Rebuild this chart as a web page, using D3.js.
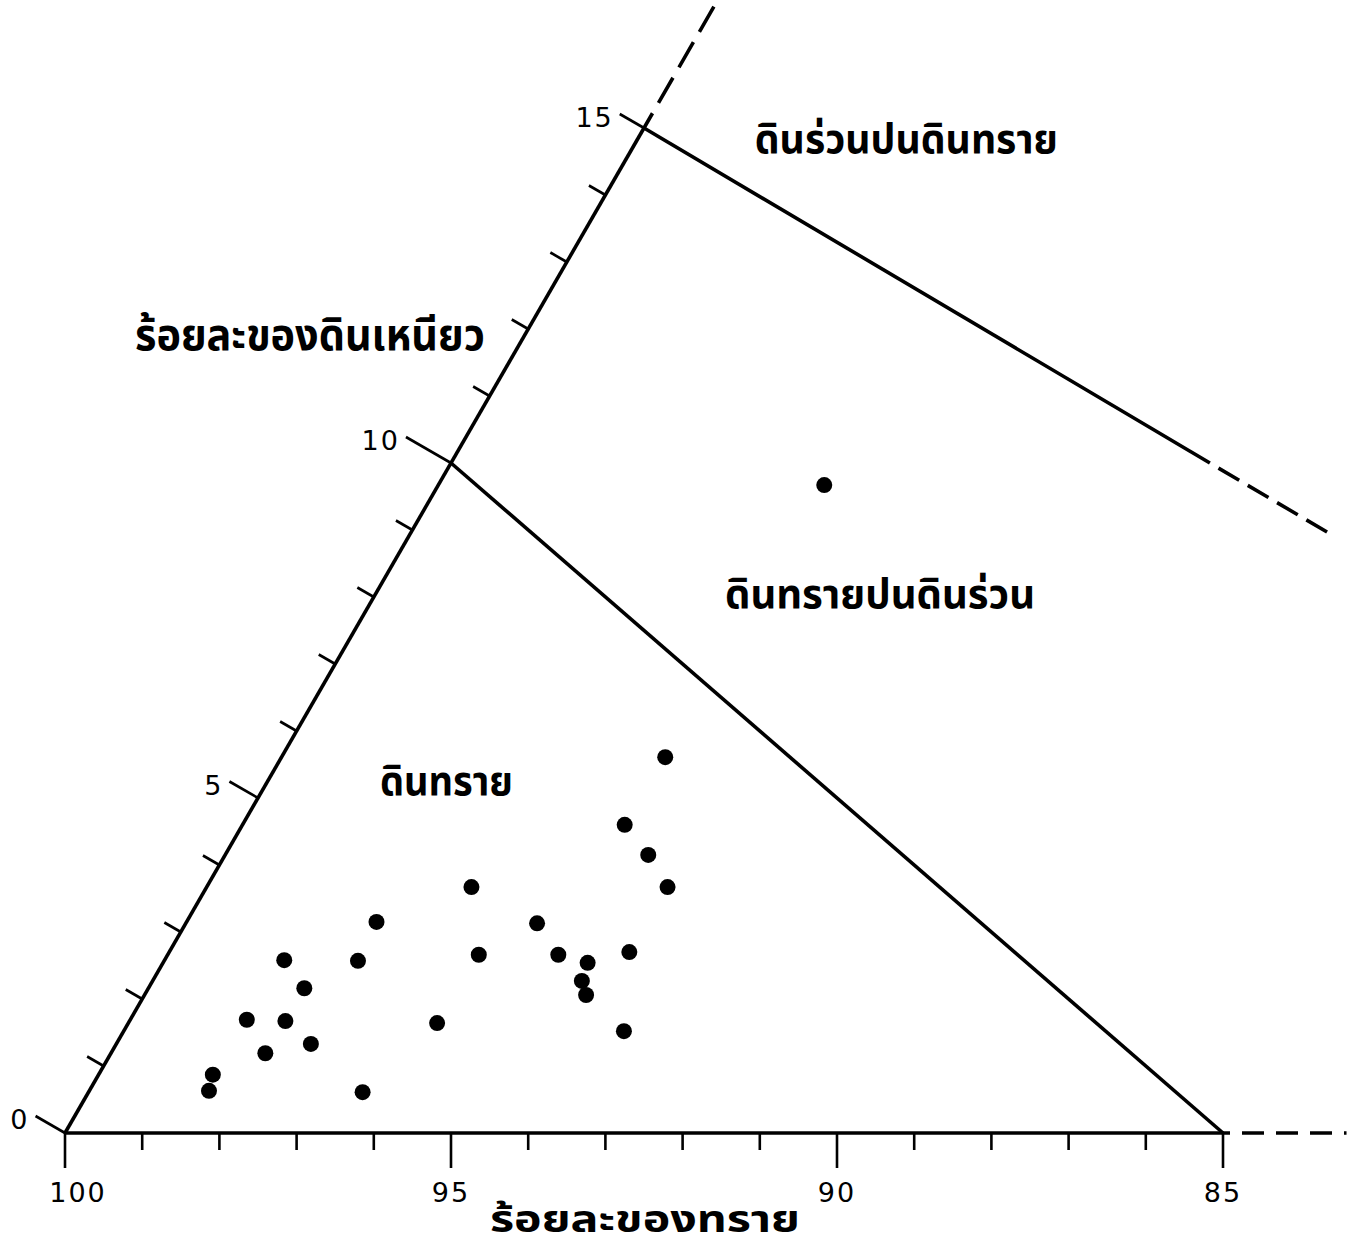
<!DOCTYPE html>
<html>
<head>
<meta charset="utf-8">
<script src="https://cdn.jsdelivr.net/npm/d3@7"></script>
<style>
  html, body { margin: 0; padding: 0; background: #fff; }
  svg { display: block; }
  .num { font-family: "DejaVu Sans", "Liberation Sans", sans-serif; font-size: 27px; fill: #000; }
  .thai { font-family: "Noto Sans Thai", "Noto Sans Thai Looped", "Loma", "Garuda", "Noto Sans", sans-serif; font-weight: bold; fill: #000; }
</style>
</head>
<body>
<svg id="chart" width="1353" height="1248"></svg>
<script>
// Soil samples: clay % and sand % (silt = remainder)
const sampleClay = [9.67, 5.61, 4.60, 4.15, 3.67, 3.67, 3.15, 3.13, 2.66, 2.66, 2.70, 2.54, 2.58,
                    2.57, 2.16, 2.27, 2.06, 1.69, 1.67, 1.64, 1.52, 1.33, 1.19, 0.87, 0.63, 0.61];
const sampleSand = [85.33, 89.42, 90.45, 90.37, 90.36, 92.90, 94.39, 92.32, 93.31, 92.28, 91.34, 91.96, 95.87,
                    94.92, 95.82, 92.17, 92.22, 96.80, 96.31, 94.36, 92.00, 96.15, 96.81, 97.65, 97.82, 95.84];

// Axis ticks
const sandTicks = d3.range(100, 84, -1);          // 100 … 85
const sandTickLabels = [100, 95, 90, 85];
const clayTicks = d3.range(0, 16, 1);             // 0 … 15
const clayTickLabels = [0, 5, 10, 15];

// Texture class boundaries as [sand, clay] vertices
const sandBoundary = [[85, 0], [90, 10]];
const loamySandSolid = [[85, 15], [80.17, 10]];
const loamySandDashed = [[80.17, 10], [79.1, 8.9]];
const clayAxisSolid = [[100, 0], [85, 15]];
const clayAxisDashed = [[85, 15], [83.15, 16.85]];
const sandAxisSolid = [[100, 0], [85, 0]];
const sandAxisDashed = [[85, 0], [83.4, 0]];

// Region names, anchored at their left baseline in [sand, clay]
const regionNames = ["ดินร่วนปนดินทราย", "ดินทรายปนดินร่วน", "ดินทราย"];
const regionSand = [83.75, 87.53, 93.40];
const regionClay = [14.63, 7.84, 5.04];
const regionWidth = [303, 310, 133];
const clayTitle = "ร้อยละของดินเหนียว";
const sandTitle = "ร้อยละของทราย";

const svg = d3.select("#chart");
svg.append("rect").attr("width", 1353).attr("height", 1248).attr("fill", "#fff");

// Ternary layout: x follows sand shifted by half the clay; y follows clay
const sandX = d3.scaleLinear().domain([100, 85]).range([65, 1223]);
const clayY = d3.scaleLinear().domain([0, 10]).range([1133, 463]);
const px = (s, c) => sandX(s + c / 2);
const py = c => clayY(c);
const line = d3.line().x(d => px(d[0], d[1])).y(d => py(d[1]));

const g = svg.append("g");

function seg(pts, dash, offset) {
  g.append("path").attr("d", line(pts))
    .attr("fill", "none").attr("stroke", "#000")
    .attr("stroke-width", 3.6)
    .attr("stroke-linecap", "butt")
    .attr("stroke-dasharray", dash || null)
    .attr("stroke-dashoffset", offset || 0);
}

seg(sandAxisSolid);
seg(sandAxisDashed, "22 12", -19);
seg(clayAxisSolid);
seg(clayAxisDashed, "29 12", 12);
seg(sandBoundary);
seg(loamySandSolid);
seg(loamySandDashed, "24 10", 24);

// Sand axis ticks (pointing down)
sandTicks.forEach(s => {
  const major = sandTickLabels.includes(s);
  const x = px(s, 0), y = py(0);
  g.append("line").attr("x1", x).attr("x2", x).attr("y1", y).attr("y2", y + (major ? 35 : 17))
    .attr("stroke", "#000").attr("stroke-width", 2.6);
});
sandTickLabels.forEach(s => {
  g.append("text").attr("class", "num")
    .attr("x", px(s, 0) + (s === 100 ? 13 : 0)).attr("y", py(0) + 69)
    .attr("text-anchor", "middle").attr("letter-spacing", 2)
    .text(s);
});

// Clay axis ticks (perpendicular to the left edge, pointing outward)
const nx = -Math.cos(Math.PI / 6), ny = -Math.sin(Math.PI / 6);
const majorLen = { 0: 34, 5: 33, 10: 52, 15: 28 };
clayTicks.forEach(c => {
  const x = px(100 - c, c), y = py(c);
  const len = majorLen[c] !== undefined ? majorLen[c] : 19;
  g.append("line").attr("x1", x).attr("y1", y)
    .attr("x2", x + nx * len).attr("y2", y + ny * len)
    .attr("stroke", "#000").attr("stroke-width", 2.6);
});
clayTickLabels.forEach(c => {
  const len = majorLen[c];
  const x = px(100 - c, c) + nx * len, y = py(c) + ny * len;
  g.append("text").attr("class", "num")
    .attr("x", x - 6).attr("y", y + 13)
    .attr("text-anchor", "end").attr("letter-spacing", 2)
    .text(c);
});

// Samples
g.selectAll("circle.sample").data(sampleSand.map((s, i) => [s, sampleClay[i]]))
  .join("circle").attr("class", "sample")
  .attr("cx", d => px(d[0], d[1])).attr("cy", d => py(d[1]))
  .attr("r", 8).attr("fill", "#000");

// Region names
regionNames.forEach((name, i) => {
  g.append("text").attr("class", "thai")
    .attr("x", px(regionSand[i], regionClay[i])).attr("y", py(regionClay[i]))
    .attr("font-size", 40)
    .attr("textLength", regionWidth[i]).attr("lengthAdjust", "spacingAndGlyphs")
    .text(name);
});

// Axis titles
g.append("text").attr("class", "thai")
  .attr("x", 135).attr("y", 350).attr("font-size", 44)
  .attr("textLength", 350).attr("lengthAdjust", "spacingAndGlyphs")
  .text(clayTitle);
g.append("text").attr("class", "thai")
  .attr("x", 490).attr("y", 1232).attr("font-size", 37)
  .attr("textLength", 310).attr("lengthAdjust", "spacingAndGlyphs")
  .text(sandTitle);
</script>
</body>
</html>
